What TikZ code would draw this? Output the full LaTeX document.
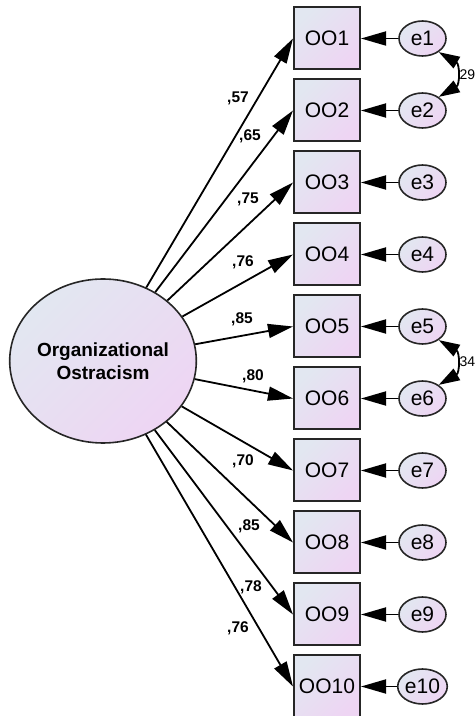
\documentclass[tikz,border=0pt]{standalone}
\usepackage{fontspec}
\setmainfont{Liberation Sans}
\usetikzlibrary{arrows.meta,shapes.geometric}
\definecolor{cA}{HTML}{E2E7F1}
\definecolor{cB}{HTML}{EED5F3}
\begin{document}
\begin{tikzpicture}[x=1pt,y=1pt,
  grad/.style={top color=cA,bottom color=cB,shading angle=45},
  obs/.style={draw=black!85,line width=2pt,grad,minimum width=66pt,minimum height=62pt,inner sep=0pt,font=\fontsize{21}{21}\selectfont},
  err/.style={ellipse,draw=black!85,line width=1.6pt,grad,minimum width=47pt,minimum height=35pt,inner sep=0pt,font=\fontsize{21}{21}\selectfont},
  lat/.style={ellipse,draw=black!85,line width=1.6pt,grad,minimum width=180pt,minimum height=164pt,inner sep=0pt,align=center,font=\fontsize{19}{23}\selectfont\bfseries},
  arr/.style={line width=1.8pt,-{Triangle[length=25pt,width=14pt]}},
  cov/.style={line width=1.8pt,{Triangle[length=21pt,width=13pt]}-{Triangle[length=21pt,width=13pt]}},
  lab/.style={inner sep=0pt,font=\fontsize{15.5}{15.5}\selectfont\bfseries},
  clab/.style={inner sep=0pt,anchor=west,font=\fontsize{14}{14}\selectfont}
]
\useasboundingbox (0,0) rectangle (476,716);
\node[lat] (F) at (103,355) {Organizational\\Ostracism};
\foreach \i in {1,...,10}{
  \pgfmathsetmacro{\yy}{677.5-72*(\i-1)}
  \node[obs] (b\i) at (327,\yy) {OO\i};
  \node[err] (e\i) at (422.5,\yy) {e\i};
  \draw[arr] (e\i) -- (b\i);
  \draw[arr] (F) -- (b\i.west);
}
\node[lab] (l1) at (238,618) {,57};
\node[lab] (l2) at (250,580) {,65};
\node[lab] (l3) at (248,517) {,75};
\node[lab] (l4) at (243,454) {,76};
\node[lab] (l5) at (242,397) {,85};
\node[lab] (l6) at (253,340) {,80};
\node[lab] (l7) at (243,255) {,70};
\node[lab] (l8) at (249,190) {,85};
\node[lab] (l9) at (251,129) {,78};
\node[lab] (l10) at (238,88) {,76};
\draw[cov] (e1.-40) to[out=-30,in=30,looseness=1.4] (e2.40);
\draw[cov] (e5.-40) to[out=-30,in=30,looseness=1.4] (e6.40);
\node[clab] (c12) at (459.5,641) {29};
\node[clab] (c56) at (459.5,354) {34};
\end{tikzpicture}
\end{document}
